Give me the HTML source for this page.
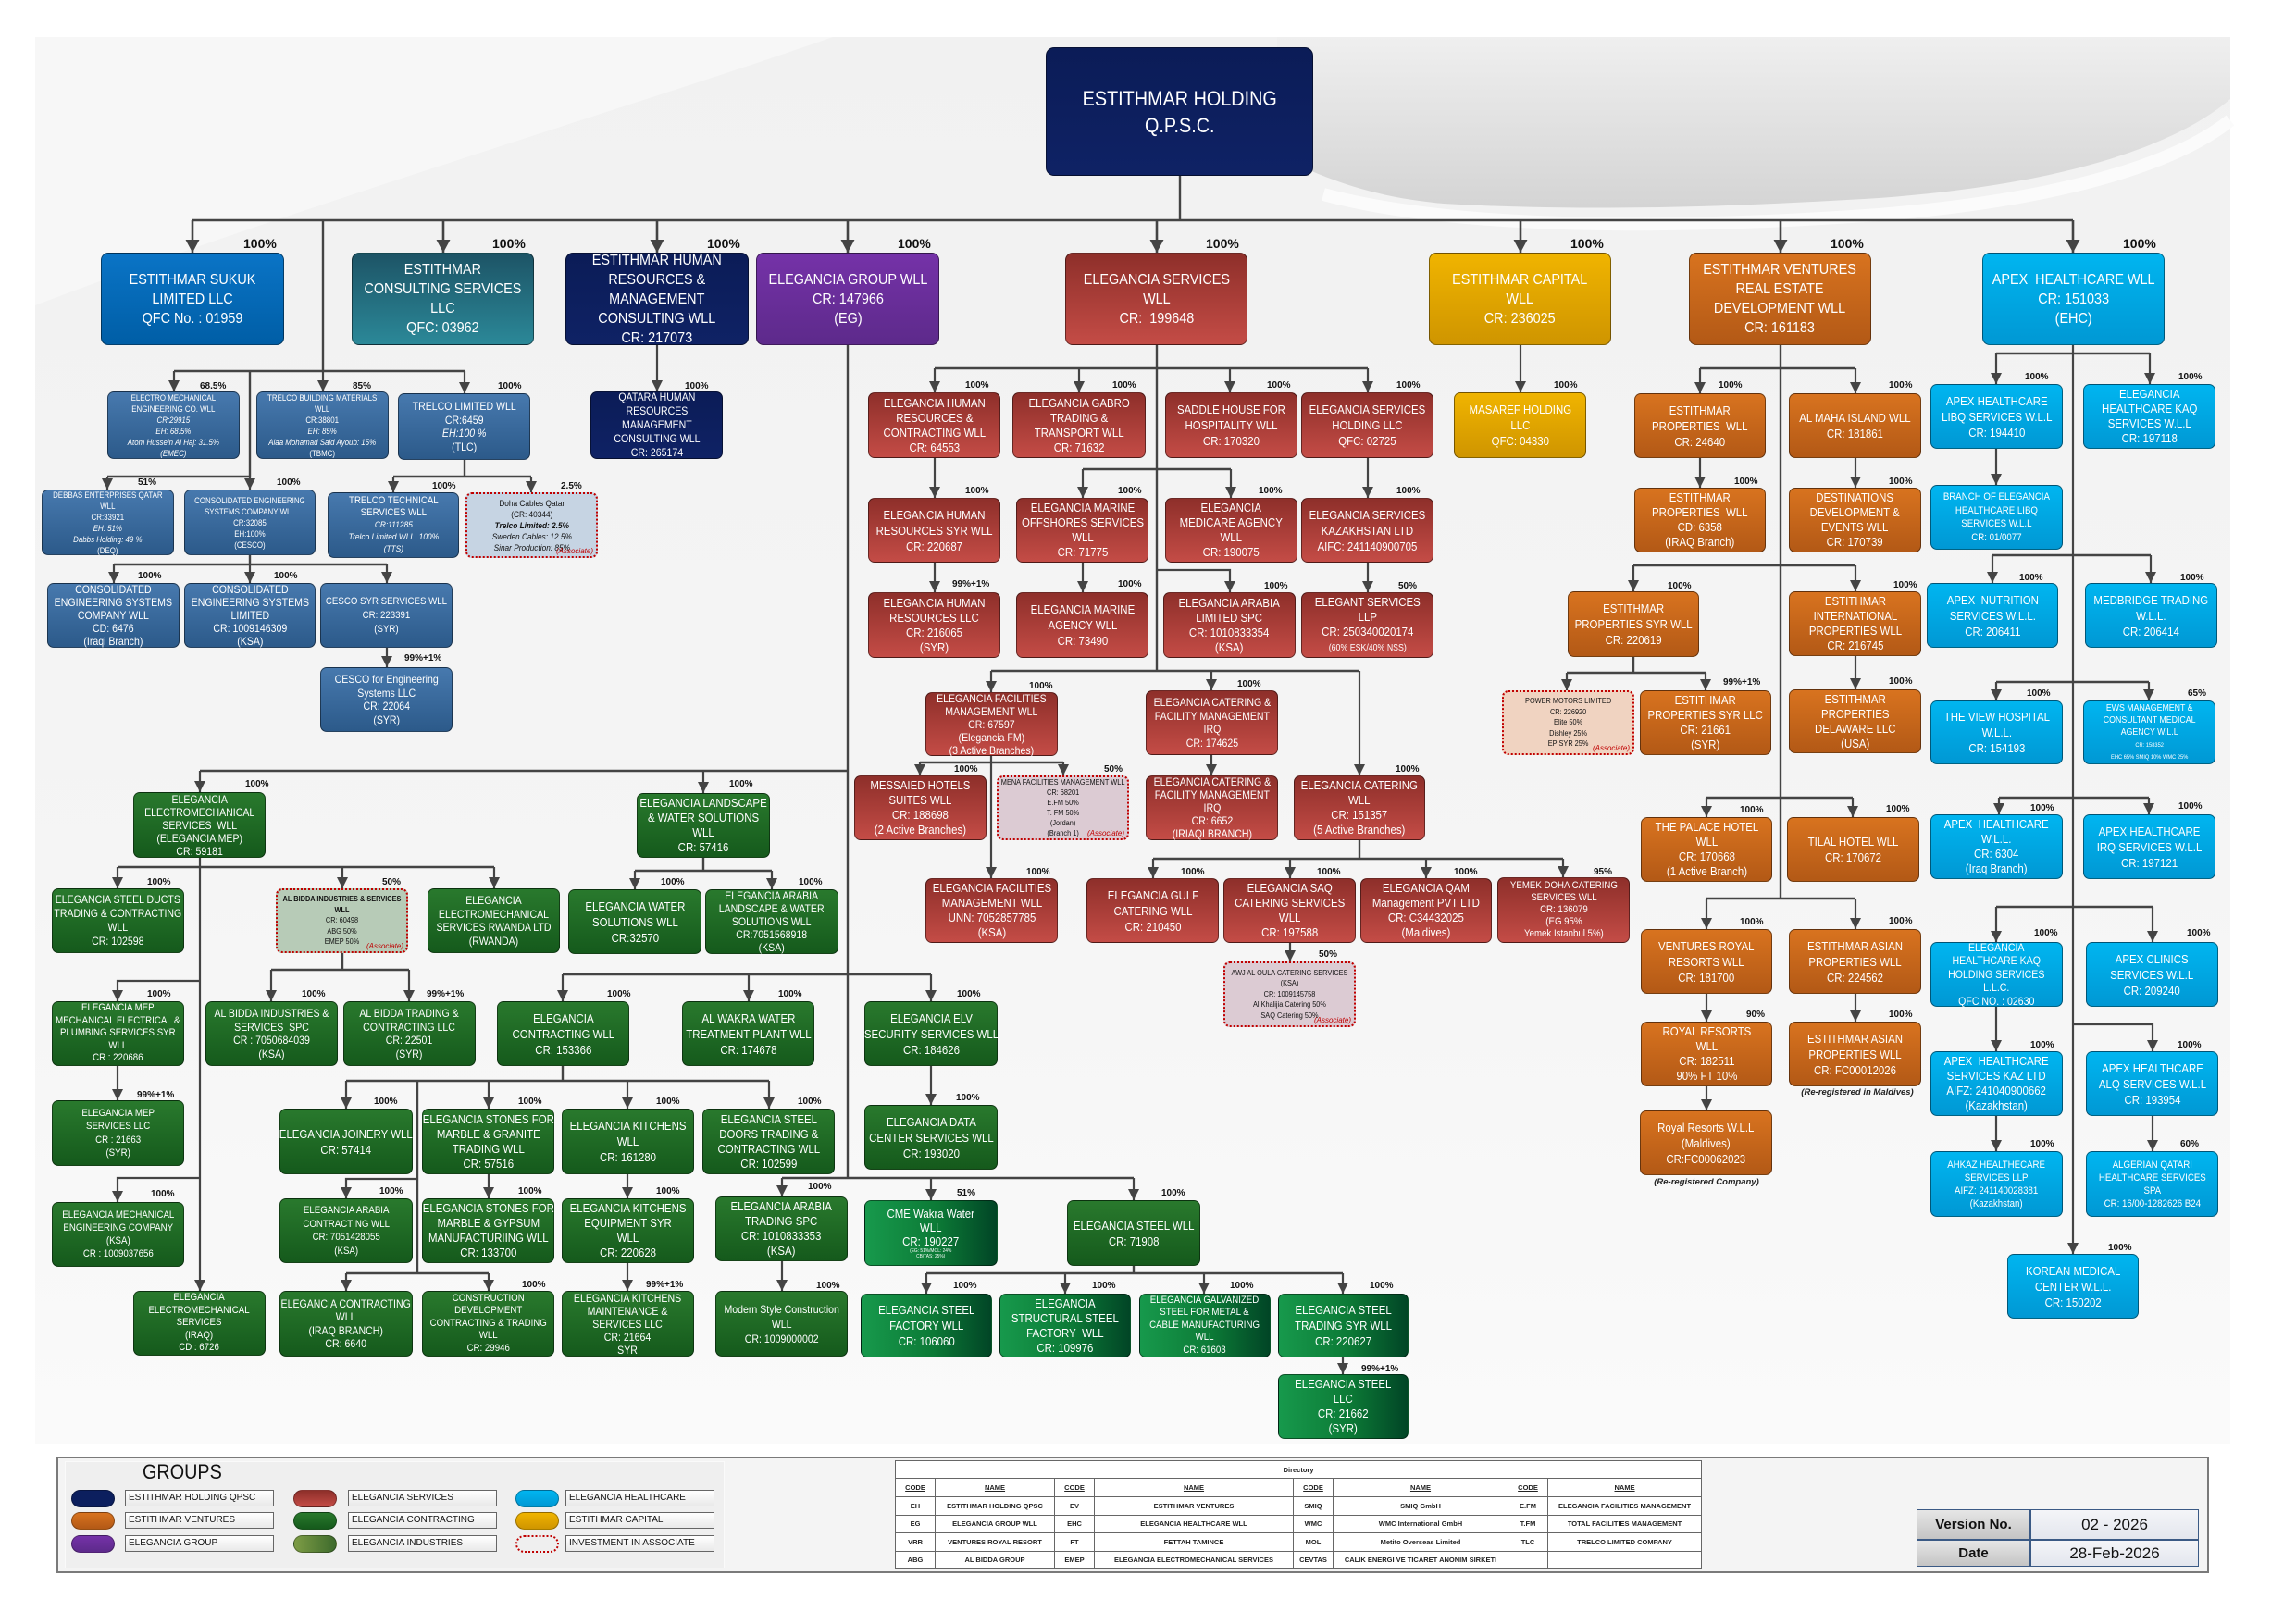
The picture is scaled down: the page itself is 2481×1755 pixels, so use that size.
<!DOCTYPE html>
<html><head><meta charset="utf-8">
<style>
body{margin:0;width:2481px;height:1755px;position:relative;background:#fff;font-family:"Liberation Sans",sans-serif;overflow:hidden}
svg.bg,svg.ln{position:absolute;left:0;top:0}
.b{position:absolute;box-sizing:border-box;border:1px solid rgba(0,0,0,.45);border-radius:7px;display:flex;align-items:center;justify-content:center;color:#fff;text-align:center;font-size:13px;line-height:16px}
.b>span{display:block;white-space:nowrap;transform:scaleX(.88)}
.L{font-size:16px;line-height:21px;border-radius:8px}
.L>span{transform:scaleX(.9)}
.s12{font-size:12px;line-height:14.5px}
.s11{font-size:11px;line-height:13.5px}
.s9{font-size:9px;line-height:12px}
.s8{font-size:8px;line-height:11.3px}
.nv{background:linear-gradient(#0b1c57,#0f2265)}
.bl{background:linear-gradient(#0a74c6,#005ea6)}
.tl{background:linear-gradient(#1d5466,#2b8898)}
.pu{background:linear-gradient(#7532a8,#5d2a8b)}
.rd{background:linear-gradient(#8e2f2a,#c44c46)}
.gd{background:linear-gradient(#f0b400,#cf9500)}
.or{background:linear-gradient(#d8731f,#b35916)}
.cy{background:linear-gradient(#00b5f0,#0098d4)}
.sb{background:linear-gradient(#4779ae,#2c5a8a)}
.gr{background:linear-gradient(#29792d,#155a1c)}
.gh{background:linear-gradient(90deg,#17994c,#0c7a36 55%,#014526)}
.as{border:2px dotted #c00000;color:#111}
.as>span{transform:scaleX(.92)}
.asl{position:absolute;right:3px;bottom:0;font-size:8px;line-height:10px;color:#c00000;font-style:italic}
.p{position:absolute;font-weight:bold;font-size:10px;line-height:12px;color:#111;white-space:nowrap}
.pm{position:absolute;font-weight:bold;font-size:14px;line-height:16px;color:#111;top:255px}
.cap{position:absolute;font-weight:bold;font-style:italic;font-size:9.5px;color:#222;white-space:nowrap;transform:translateX(-50%)}
.pill{position:absolute;width:47px;height:19px;border-radius:10px;box-sizing:border-box;border:1px solid rgba(0,0,0,.3)}
.lb{position:absolute;width:161px;height:18px;box-sizing:border-box;border:1px solid #666;background:linear-gradient(#fff,#e9e9e9);font-size:10px;line-height:16px;padding-left:3px;color:#111;white-space:nowrap}
table.dir{position:absolute;left:967px;top:1578px;width:871px;border-collapse:collapse;table-layout:fixed;font-size:7.5px;font-weight:bold;color:#222;background:#fff}
table.dir td{border:1px solid #666;text-align:center;padding:0;height:18.5px;white-space:nowrap;overflow:hidden}
table.dir tr.h td{text-decoration:underline}
</style></head><body>

<svg class="bg" width="2481" height="1755">
<defs>
<linearGradient id="pg" x1="0" y1="0" x2="0" y2="1"><stop offset="0" stop-color="#f1f1f1"/><stop offset=".6" stop-color="#f5f5f5"/><stop offset="1" stop-color="#fafafa"/></linearGradient>
<linearGradient id="sw" x1="0" y1="0" x2="0" y2="1"><stop offset="0" stop-color="#efefef"/><stop offset="1" stop-color="#d4d4d4"/></linearGradient>
</defs>
<rect x="38" y="40" width="2372" height="1520" fill="url(#pg)"/>
<path d="M38,40 L900,40 C700,110 300,230 38,330 Z" fill="#f7f7f7"/>
<path d="M1380,40 L2410,40 L2410,107 C2360,150 2250,198 2030,214 C1850,225 1700,228 1560,220 C1480,213 1430,192 1380,168 Z" fill="url(#sw)"/>
<path d="M1430,210 C1560,245 1780,250 2030,232 C2250,214 2360,170 2410,130" fill="none" stroke="#fbfbfb" stroke-width="14"/>
</svg>

<svg class="ln" width="2481" height="1755">
<defs>
<marker id="a" markerUnits="userSpaceOnUse" markerWidth="12" markerHeight="12" refX="12" refY="6" orient="auto"><path d="M0,0L12,6L0,12Z" fill="#444"/></marker>
<marker id="A" markerUnits="userSpaceOnUse" markerWidth="14" markerHeight="15" refX="14" refY="7.5" orient="auto"><path d="M0,0L14,7.5L0,15Z" fill="#444"/></marker>
</defs>
<path fill="none" stroke="#444" stroke-width="2.4" d="M1275,190V238 M208,238H2240 M349,238V401 M188,401H502 M270,401V515 M116,515H270 M502,497V515 M425,515H574 M270,600V610 M123,610H418 M916,373V1273 M216,833H916 M127,937H534 M760,927V941 M686,941H834 M370,1030V1048 M293,1048H442 M608,1053H1006 M608,1152V1168 M374,1168H831 M451,1168V1376 M374,1376H528 M845,1273H1225 M1225,1368V1376 M1001,1376H1451 M1250,373V725 M1010,398H1478 M1170,507H1330 M1071,725H1469 M994,824H1149 M1469,908V928 M1246,928H1689 M1924,373V971 M1837,398H2005 M1765,611H2005 M1765,710V727 M1693,727H1843 M1844,862H2002 M1844,971H2005 M2157,382H2323 M2153,600H2324 M2157,737H2322 M2160,862H2322 M2157,980H2326"/>
<g fill="none" stroke="#444" stroke-width="2.6" marker-end="url(#A)">
<path d="M208,238V273"/><path d="M479,238V273"/><path d="M710,238V273"/><path d="M916,238V273"/><path d="M1250,238V273"/><path d="M1643,238V273"/><path d="M1924,238V273"/><path d="M2240,238V273"/>
</g>
<g fill="none" stroke="#444" stroke-width="2.2" marker-end="url(#a)">
<path d="M188,401V423"/><path d="M349,401V423"/><path d="M502,401V425"/><path d="M116,515V529"/><path d="M270,515V529"/><path d="M425,515V532"/><path d="M574,515V532"/><path d="M710,373V423"/><path d="M123,610V630"/><path d="M270,610V630"/><path d="M418,610V630"/><path d="M418,700V721"/>
<path d="M216,833V856"/><path d="M760,833V857"/><path d="M216,927V1395"/><path d="M127,937V960"/><path d="M370,937V960"/><path d="M534,937V960"/><path d="M216,1060H127V1082"/><path d="M127,1152V1189"/><path d="M216,1273H127V1299"/><path d="M686,941V961"/><path d="M834,941V961"/><path d="M293,1048V1082"/><path d="M442,1048V1082"/><path d="M608,1053V1082"/><path d="M809,1053V1082"/><path d="M1006,1053V1082"/><path d="M1006,1152V1194"/><path d="M374,1168V1198"/><path d="M528,1168V1198"/><path d="M678,1168V1198"/><path d="M831,1168V1198"/><path d="M451,1274H374V1295"/><path d="M374,1376V1395"/><path d="M528,1376V1395"/><path d="M528,1269V1295"/><path d="M678,1269V1295"/><path d="M678,1365V1395"/><path d="M845,1273V1293"/><path d="M1006,1273V1297"/><path d="M1225,1273V1297"/><path d="M845,1363V1395"/><path d="M1001,1376V1398"/><path d="M1151,1376V1398"/><path d="M1301,1376V1398"/><path d="M1451,1376V1398"/><path d="M1451,1467V1485"/>
<path d="M1010,398V424"/><path d="M1166,398V424"/><path d="M1329,398V424"/><path d="M1478,398V424"/><path d="M1010,495V538"/><path d="M1478,495V538"/><path d="M1170,507V538"/><path d="M1330,507V538"/><path d="M1010,608V640"/><path d="M1170,608V640"/><path d="M1478,608V640"/><path d="M1250,616H1329V640"/><path d="M1071,725V748"/><path d="M1309,725V746"/><path d="M1469,725V838"/><path d="M1071,817V949"/><path d="M994,824V838"/><path d="M1149,824V838"/><path d="M1309,816V838"/><path d="M1246,928V949"/><path d="M1394,928V949"/><path d="M1541,928V949"/><path d="M1689,928V948"/><path d="M1394,1019V1039"/><path d="M1643,373V424"/>
<path d="M1837,398V425"/><path d="M2005,398V425"/><path d="M1837,495V527"/><path d="M2005,495V527"/><path d="M1765,611V639"/><path d="M2005,611V639"/><path d="M1693,727V746"/><path d="M1843,727V746"/><path d="M2005,709V745"/><path d="M1844,862V883"/><path d="M2002,862V883"/><path d="M1844,971V1004"/><path d="M2005,971V1004"/><path d="M1844,1074V1104"/><path d="M2005,1074V1104"/><path d="M1844,1174V1200"/>
<path d="M2240,373V1355"/><path d="M2157,382V415"/><path d="M2323,382V415"/><path d="M2157,485V524"/><path d="M2153,600V630"/><path d="M2324,600V630"/><path d="M2157,737V757"/><path d="M2322,737V757"/><path d="M2160,862V880"/><path d="M2322,862V880"/><path d="M2157,980V1018"/><path d="M2326,980V1018"/><path d="M2157,1088V1136"/><path d="M2240,1107H2326V1136"/><path d="M2157,1206V1244"/><path d="M2326,1206V1244"/>
</g>
</svg>

<!-- TOP -->
<div class="b nv" style="left:1130px;top:51px;width:289px;height:139px;font-size:22px;line-height:29px;border-radius:9px"><span style="transform:scaleX(.9)">ESTITHMAR HOLDING<br>Q.P.S.C.</span></div>

<!-- LEVEL 1 -->
<div class="b L bl" style="left:109px;top:273px;width:198px;height:100px"><span>ESTITHMAR SUKUK<br>LIMITED LLC<br>QFC No. : 01959</span></div>
<div class="b L tl" style="left:380px;top:273px;width:197px;height:100px"><span>ESTITHMAR<br>CONSULTING SERVICES<br>LLC<br>QFC: 03962</span></div>
<div class="b L nv" style="left:611px;top:273px;width:198px;height:100px"><span>ESTITHMAR HUMAN<br>RESOURCES &amp;<br>MANAGEMENT<br>CONSULTING WLL<br>CR: 217073</span></div>
<div class="b L pu" style="left:817px;top:273px;width:198px;height:100px"><span>ELEGANCIA GROUP WLL<br>CR: 147966<br>(EG)</span></div>
<div class="b L rd" style="left:1151px;top:273px;width:197px;height:100px"><span>ELEGANCIA SERVICES<br>WLL<br>CR:&nbsp; 199648</span></div>
<div class="b L gd" style="left:1544px;top:273px;width:197px;height:100px"><span>ESTITHMAR CAPITAL<br>WLL<br>CR: 236025</span></div>
<div class="b L or" style="left:1825px;top:273px;width:197px;height:100px"><span>ESTITHMAR VENTURES<br>REAL ESTATE<br>DEVELOPMENT WLL<br>CR: 161183</span></div>
<div class="b L cy" style="left:2142px;top:273px;width:197px;height:100px"><span>APEX&nbsp; HEALTHCARE WLL<br>CR: 151033<br>(EHC)</span></div>

<b class="pm" style="left:263px">100%</b><b class="pm" style="left:532px">100%</b><b class="pm" style="left:764px">100%</b><b class="pm" style="left:970px">100%</b><b class="pm" style="left:1303px">100%</b><b class="pm" style="left:1697px">100%</b><b class="pm" style="left:1978px">100%</b><b class="pm" style="left:2294px">100%</b>

<!-- ESTITHMAR HOLDING SUBS -->
<div class="b sb s9" style="left:116px;top:423px;width:143px;height:73px"><span>ELECTRO MECHANICAL<br>ENGINEERING CO. WLL<br><i>CR:29915</i><br><i>EH: 68.5%</i><br><i>Atom Hussein Al Haj: 31.5%</i><br><i>(EMEC)</i></span></div>
<div class="b sb s9" style="left:277px;top:423px;width:143px;height:73px"><span>TRELCO BUILDING MATERIALS<br>WLL<br>CR:38801<br><i>EH: 85%</i><br><i>Alaa Mohamad Said Ayoub: 15%</i><br>(TBMC)</span></div>
<div class="b sb s12" style="left:430px;top:425px;width:143px;height:72px"><span>TRELCO LIMITED WLL<br>CR:6459<br><i>EH:100 %</i><br>(TLC)</span></div>
<div class="b nv s12" style="left:638px;top:423px;width:143px;height:73px;line-height:15px"><span>QATARA HUMAN<br>RESOURCES<br>MANAGEMENT<br>CONSULTING WLL<br>CR: 265174</span></div>
<div class="b sb s9" style="left:45px;top:529px;width:143px;height:71px"><span>DEBBAS ENTERPRISES QATAR<br>WLL<br>CR:33921<br><i>EH: 51%</i><br><i>Dabbs Holding: 49 %</i><br>(DEQ)</span></div>
<div class="b sb s9" style="left:199px;top:529px;width:142px;height:71px"><span>CONSOLIDATED ENGINEERING<br>SYSTEMS COMPANY WLL<br>CR:32085<br>EH:100%<br>(CESCO)</span></div>
<div class="b sb s11" style="left:354px;top:532px;width:142px;height:71px;line-height:13px"><span>TRELCO TECHNICAL<br>SERVICES WLL<br><i style="font-size:9.5px">CR:111285</i><br><i style="font-size:9.5px">Trelco Limited WLL: 100%</i><br><i style="font-size:9.5px">(TTS)</i></span></div>
<div class="b as s9" style="left:503px;top:532px;width:143px;height:71px;background:#c6d4e3"><span>Doha Cables Qatar<br>(CR: 40344)<br><b><i>Trelco Limited: 2.5%</i></b><br><i>Sweden Cables: 12.5%</i><br><i>Sinar Production: 85%</i></span><em class="asl">(Associate)</em></div>
<div class="b sb s12" style="left:51px;top:630px;width:143px;height:70px;line-height:14px"><span>CONSOLIDATED<br>ENGINEERING SYSTEMS<br>COMPANY WLL<br>CD: 6476<br>(Iraqi Branch)</span></div>
<div class="b sb s12" style="left:199px;top:630px;width:142px;height:70px;line-height:14px"><span>CONSOLIDATED<br>ENGINEERING SYSTEMS<br>LIMITED<br>CR: 1009146309<br>(KSA)</span></div>
<div class="b sb s11" style="left:346px;top:630px;width:143px;height:70px;line-height:15px"><span>CESCO SYR SERVICES WLL<br>CR: 223391<br>(SYR)</span></div>
<div class="b sb s12" style="left:346px;top:721px;width:143px;height:70px"><span>CESCO for Engineering<br>Systems LLC<br>CR: 22064<br>(SYR)</span></div>

<b class="p" style="left:216px;top:412px">68.5%</b><b class="p" style="left:381px;top:412px">85%</b><b class="p" style="left:538px;top:412px">100%</b><b class="p" style="left:740px;top:412px">100%</b>
<b class="p" style="left:149px;top:516px">51%</b><b class="p" style="left:299px;top:516px">100%</b><b class="p" style="left:467px;top:520px">100%</b><b class="p" style="left:606px;top:520px">2.5%</b>
<b class="p" style="left:149px;top:617px">100%</b><b class="p" style="left:296px;top:617px">100%</b><b class="p" style="left:437px;top:706px">99%+1%</b>

<!-- ELEGANCIA SERVICES -->
<div class="b rd" style="left:938px;top:424px;width:143px;height:71px"><span>ELEGANCIA HUMAN<br>RESOURCES &amp;<br>CONTRACTING WLL<br>CR: 64553</span></div>
<div class="b rd" style="left:1094px;top:424px;width:144px;height:71px"><span>ELEGANCIA GABRO<br>TRADING &amp;<br>TRANSPORT WLL<br>CR: 71632</span></div>
<div class="b rd" style="left:1259px;top:424px;width:143px;height:71px;line-height:17px"><span>SADDLE HOUSE FOR<br>HOSPITALITY WLL<br>CR: 170320</span></div>
<div class="b rd" style="left:1406px;top:424px;width:143px;height:71px;line-height:17px"><span>ELEGANCIA SERVICES<br>HOLDING LLC<br>QFC: 02725</span></div>
<div class="b gd" style="left:1571px;top:424px;width:143px;height:71px;line-height:17px"><span>MASAREF HOLDING<br>LLC<br>QFC: 04330</span></div>
<div class="b rd" style="left:938px;top:538px;width:143px;height:70px;line-height:17px"><span>ELEGANCIA HUMAN<br>RESOURCES SYR WLL<br>CR: 220687</span></div>
<div class="b rd" style="left:1098px;top:538px;width:143px;height:70px"><span>ELEGANCIA MARINE<br>OFFSHORES SERVICES<br>WLL<br>CR: 71775</span></div>
<div class="b rd" style="left:1259px;top:538px;width:143px;height:70px"><span>ELEGANCIA<br>MEDICARE AGENCY<br>WLL<br>CR: 190075</span></div>
<div class="b rd" style="left:1406px;top:538px;width:143px;height:70px;line-height:17px"><span>ELEGANCIA SERVICES<br>KAZAKHSTAN LTD<br>AIFC: 241140900705</span></div>
<div class="b rd" style="left:938px;top:640px;width:143px;height:71px"><span>ELEGANCIA HUMAN<br>RESOURCES LLC<br>CR: 216065<br>(SYR)</span></div>
<div class="b rd" style="left:1098px;top:640px;width:143px;height:71px;line-height:17px"><span>ELEGANCIA MARINE<br>AGENCY WLL<br>CR: 73490</span></div>
<div class="b rd" style="left:1257px;top:640px;width:143px;height:71px"><span>ELEGANCIA ARABIA<br>LIMITED SPC<br>CR: 1010833354<br>(KSA)</span></div>
<div class="b rd" style="left:1406px;top:640px;width:143px;height:71px"><span>ELEGANT SERVICES<br>LLP<br>CR: 250340020174<br><span style="font-size:10px">(60% ESK/40% NSS)</span></span></div>
<div class="b rd s12" style="left:1000px;top:748px;width:143px;height:69px;line-height:14px"><span>ELEGANCIA FACILITIES<br>MANAGEMENT WLL<br>CR: 67597<br>(Elegancia FM)<br>(3 Active Branches)</span></div>
<div class="b rd s12" style="left:1238px;top:746px;width:143px;height:70px;line-height:14.5px"><span>ELEGANCIA CATERING &amp;<br>FACILITY MANAGEMENT<br>IRQ<br>CR: 174625</span></div>
<div class="b rd" style="left:923px;top:838px;width:143px;height:70px"><span>MESSAIED HOTELS<br>SUITES WLL<br>CR: 188698<br>(2 Active Branches)</span></div>
<div class="b as s8" style="left:1077px;top:838px;width:143px;height:70px;background:#dccbd3;line-height:11px"><span>MENA FACILITIES MANAGEMENT WLL<br>CR: 68201<br>E.FM 50%<br>T. FM 50%<br>(Jordan)<br>(Branch 1)</span><em class="asl">(Associate)</em></div>
<div class="b rd s12" style="left:1238px;top:838px;width:143px;height:70px;line-height:14px"><span>ELEGANCIA CATERING &amp;<br>FACILITY MANAGEMENT<br>IRQ<br>CR: 6652<br>(IRIAQI BRANCH)</span></div>
<div class="b rd" style="left:1398px;top:838px;width:142px;height:70px"><span>ELEGANCIA CATERING<br>WLL<br>CR: 151357<br>(5 Active Branches)</span></div>
<div class="b rd" style="left:1000px;top:949px;width:143px;height:70px"><span>ELEGANCIA FACILITIES<br>MANAGEMENT WLL<br>UNN: 7052857785<br>(KSA)</span></div>
<div class="b rd" style="left:1174px;top:949px;width:143px;height:70px;line-height:17px"><span>ELEGANCIA GULF<br>CATERING WLL<br>CR: 210450</span></div>
<div class="b rd" style="left:1322px;top:949px;width:143px;height:70px"><span>ELEGANCIA SAQ<br>CATERING SERVICES<br>WLL<br>CR: 197588</span></div>
<div class="b rd" style="left:1470px;top:949px;width:142px;height:70px"><span>ELEGANCIA QAM<br>Management PVT LTD<br>CR: C34432025<br>(Maldives)</span></div>
<div class="b rd s11" style="left:1618px;top:948px;width:143px;height:71px;line-height:13px"><span>YEMEK DOHA CATERING<br>SERVICES WLL<br>CR: 136079<br>(EG 95%<br>Yemek Istanbul 5%)</span></div>
<div class="b as s8" style="left:1322px;top:1039px;width:143px;height:71px;background:#dccbd3;line-height:11.5px"><span>AWJ AL OULA CATERING SERVICES<br>(KSA)<br>CR: 1009145758<br>Al Khalijia Catering 50%<br>SAQ Catering 50%</span><em class="asl">(Associate)</em></div>

<b class="p" style="left:1043px;top:411px">100%</b><b class="p" style="left:1202px;top:411px">100%</b><b class="p" style="left:1369px;top:411px">100%</b><b class="p" style="left:1509px;top:411px">100%</b><b class="p" style="left:1679px;top:411px">100%</b>
<b class="p" style="left:1043px;top:525px">100%</b><b class="p" style="left:1208px;top:525px">100%</b><b class="p" style="left:1360px;top:525px">100%</b><b class="p" style="left:1509px;top:525px">100%</b>
<b class="p" style="left:1029px;top:626px">99%+1%</b><b class="p" style="left:1208px;top:626px">100%</b><b class="p" style="left:1366px;top:628px">100%</b><b class="p" style="left:1511px;top:628px">50%</b>
<b class="p" style="left:1112px;top:736px">100%</b><b class="p" style="left:1337px;top:734px">100%</b>
<b class="p" style="left:1031px;top:826px">100%</b><b class="p" style="left:1193px;top:826px">50%</b><b class="p" style="left:1508px;top:826px">100%</b>
<b class="p" style="left:1109px;top:937px">100%</b><b class="p" style="left:1276px;top:937px">100%</b><b class="p" style="left:1423px;top:937px">100%</b><b class="p" style="left:1571px;top:937px">100%</b><b class="p" style="left:1722px;top:937px">95%</b>
<b class="p" style="left:1425px;top:1026px">50%</b>

<!-- VENTURES -->
<div class="b or" style="left:1766px;top:425px;width:142px;height:70px;line-height:17px"><span>ESTITHMAR<br>PROPERTIES&nbsp; WLL<br>CR: 24640</span></div>
<div class="b or" style="left:1933px;top:425px;width:143px;height:70px;line-height:17px"><span>AL MAHA ISLAND WLL<br>CR: 181861</span></div>
<div class="b or" style="left:1766px;top:527px;width:142px;height:70px"><span>ESTITHMAR<br>PROPERTIES&nbsp; WLL<br>CD: 6358<br>(IRAQ Branch)</span></div>
<div class="b or" style="left:1933px;top:527px;width:143px;height:70px"><span>DESTINATIONS<br>DEVELOPMENT &amp;<br>EVENTS WLL<br>CR: 170739</span></div>
<div class="b or" style="left:1694px;top:639px;width:142px;height:71px;line-height:17px"><span>ESTITHMAR<br>PROPERTIES SYR WLL<br>CR: 220619</span></div>
<div class="b or" style="left:1933px;top:639px;width:143px;height:70px"><span>ESTITHMAR<br>INTERNATIONAL<br>PROPERTIES WLL<br>CR: 216745</span></div>
<div class="b as s8" style="left:1623px;top:746px;width:143px;height:70px;background:#f0d3c1;line-height:11.5px"><span>POWER MOTORS LIMITED<br>CR: 226920<br>Elite 50%<br>Dishley 25%<br>EP SYR 25%</span><em class="asl">(Associate)</em></div>
<div class="b or" style="left:1772px;top:746px;width:142px;height:70px"><span>ESTITHMAR<br>PROPERTIES SYR LLC<br>CR: 21661<br>(SYR)</span></div>
<div class="b or" style="left:1933px;top:745px;width:143px;height:69px"><span>ESTITHMAR<br>PROPERTIES<br>DELAWARE LLC<br>(USA)</span></div>
<div class="b or" style="left:1773px;top:883px;width:142px;height:70px"><span>THE PALACE HOTEL<br>WLL<br>CR: 170668<br>(1 Active Branch)</span></div>
<div class="b or" style="left:1931px;top:883px;width:143px;height:70px;line-height:17px"><span>TILAL HOTEL WLL<br>CR: 170672</span></div>
<div class="b or" style="left:1773px;top:1004px;width:142px;height:70px;line-height:17px"><span>VENTURES ROYAL<br>RESORTS WLL<br>CR: 181700</span></div>
<div class="b or" style="left:1933px;top:1004px;width:143px;height:70px;line-height:17px"><span>ESTITHMAR ASIAN<br>PROPERTIES WLL<br>CR: 224562</span></div>
<div class="b or" style="left:1773px;top:1104px;width:142px;height:70px"><span>ROYAL RESORTS<br>WLL<br>CR: 182511<br>90% FT 10%</span></div>
<div class="b or" style="left:1933px;top:1104px;width:143px;height:70px;line-height:17px"><span>ESTITHMAR ASIAN<br>PROPERTIES WLL<br>CR: FC00012026</span></div>
<div class="cap" style="left:2007px;top:1175px">(Re-registered in Maldives)</div>
<div class="b or" style="left:1772px;top:1200px;width:143px;height:70px;line-height:17px"><span>Royal Resorts W.L.L<br>(Maldives)<br>CR:FC00062023</span></div>
<div class="cap" style="left:1844px;top:1272px">(Re-registered Company)</div>

<b class="p" style="left:1857px;top:411px">100%</b><b class="p" style="left:2041px;top:411px">100%</b>
<b class="p" style="left:1874px;top:515px">100%</b><b class="p" style="left:2041px;top:515px">100%</b>
<b class="p" style="left:1802px;top:628px">100%</b><b class="p" style="left:2046px;top:627px">100%</b>
<b class="p" style="left:1862px;top:732px">99%+1%</b><b class="p" style="left:2041px;top:731px">100%</b>
<b class="p" style="left:1880px;top:870px">100%</b><b class="p" style="left:2038px;top:869px">100%</b>
<b class="p" style="left:1880px;top:991px">100%</b><b class="p" style="left:2041px;top:990px">100%</b>
<b class="p" style="left:1887px;top:1091px">90%</b><b class="p" style="left:2041px;top:1091px">100%</b>

<!-- APEX -->
<div class="b cy" style="left:2086px;top:415px;width:143px;height:70px;line-height:17px"><span>APEX HEALTHCARE<br>LIBQ SERVICES W.L.L<br>CR: 194410</span></div>
<div class="b cy" style="left:2251px;top:415px;width:143px;height:70px"><span>ELEGANCIA<br>HEALTHCARE KAQ<br>SERVICES W.L.L<br>CR: 197118</span></div>
<div class="b cy s11" style="left:2086px;top:524px;width:143px;height:70px;line-height:14.5px"><span>BRANCH OF ELEGANCIA<br>HEALTHCARE LIBQ<br>SERVICES W.L.L<br>CR: 01/0077</span></div>
<div class="b cy" style="left:2082px;top:630px;width:142px;height:70px;line-height:17px"><span>APEX&nbsp; NUTRITION<br>SERVICES W.L.L.<br>CR: 206411</span></div>
<div class="b cy" style="left:2253px;top:630px;width:143px;height:70px;line-height:17px"><span>MEDBRIDGE TRADING<br>W.L.L.<br>CR: 206414</span></div>
<div class="b cy" style="left:2086px;top:757px;width:143px;height:69px;line-height:17px"><span>THE VIEW HOSPITAL<br>W.L.L.<br>CR: 154193</span></div>
<div class="b cy" style="left:2251px;top:757px;width:143px;height:69px;font-size:10px;line-height:13px"><span>EWS MANAGEMENT &amp;<br>CONSULTANT MEDICAL<br>AGENCY W.L.L<br><span style="font-size:6.5px;line-height:10px">CR: 158352</span><br><span style="font-size:6.5px;line-height:10px">EHC 65% SMIQ 10% WMC 25%</span></span></div>
<div class="b cy" style="left:2086px;top:880px;width:143px;height:70px"><span>APEX&nbsp; HEALTHCARE<br>W.L.L.<br>CR: 6304<br>(Iraq Branch)</span></div>
<div class="b cy" style="left:2251px;top:880px;width:143px;height:70px;line-height:17px"><span>APEX HEALTHCARE<br>IRQ SERVICES W.L.L<br>CR: 197121</span></div>
<div class="b cy s12" style="left:2086px;top:1018px;width:143px;height:70px;line-height:14.5px"><span>ELEGANCIA<br>HEALTHCARE KAQ<br>HOLDING SERVICES<br>L.L.C.<br>QFC NO. : 02630</span></div>
<div class="b cy" style="left:2254px;top:1018px;width:143px;height:70px;line-height:17px"><span>APEX CLINICS<br>SERVICES W.L.L<br>CR: 209240</span></div>
<div class="b cy" style="left:2086px;top:1136px;width:143px;height:70px"><span>APEX&nbsp; HEALTHCARE<br>SERVICES KAZ LTD<br>AIFZ: 241040900662<br>(Kazakhstan)</span></div>
<div class="b cy" style="left:2254px;top:1136px;width:143px;height:70px;line-height:17px"><span>APEX HEALTHCARE<br>ALQ SERVICES W.L.L<br>CR: 193954</span></div>
<div class="b cy s11" style="left:2086px;top:1244px;width:143px;height:71px;line-height:14px"><span>AHKAZ HEALTHECARE<br>SERVICES LLP<br>AIFZ: 241140028381<br>(Kazakhstan)</span></div>
<div class="b cy s11" style="left:2254px;top:1244px;width:143px;height:71px;line-height:14px"><span>ALGERIAN QATARI<br>HEALTHCARE SERVICES<br>SPA<br>CR: 16/00-1282626 B24</span></div>
<div class="b cy" style="left:2169px;top:1355px;width:142px;height:70px;line-height:17px"><span>KOREAN MEDICAL<br>CENTER W.L.L.<br>CR: 150202</span></div>

<b class="p" style="left:2188px;top:402px">100%</b><b class="p" style="left:2354px;top:402px">100%</b>
<b class="p" style="left:2182px;top:619px">100%</b><b class="p" style="left:2356px;top:619px">100%</b>
<b class="p" style="left:2190px;top:744px">100%</b><b class="p" style="left:2364px;top:744px">65%</b>
<b class="p" style="left:2194px;top:868px">100%</b><b class="p" style="left:2354px;top:866px">100%</b>
<b class="p" style="left:2198px;top:1003px">100%</b><b class="p" style="left:2363px;top:1003px">100%</b>
<b class="p" style="left:2194px;top:1124px">100%</b><b class="p" style="left:2353px;top:1124px">100%</b>
<b class="p" style="left:2194px;top:1231px">100%</b><b class="p" style="left:2356px;top:1231px">60%</b>
<b class="p" style="left:2278px;top:1343px">100%</b>

<!-- ELEGANCIA GROUP -->
<div class="b gr s12" style="left:144px;top:856px;width:143px;height:71px;line-height:14px"><span>ELEGANCIA<br>ELECTROMECHANICAL<br>SERVICES&nbsp; WLL<br>(ELEGANCIA MEP)<br>CR: 59181</span></div>
<div class="b gr" style="left:688px;top:857px;width:144px;height:70px"><span>ELEGANCIA LANDSCAPE<br>&amp; WATER SOLUTIONS<br>WLL<br>CR: 57416</span></div>
<div class="b gr s12" style="left:56px;top:960px;width:143px;height:70px;line-height:15px"><span>ELEGANCIA STEEL DUCTS<br>TRADING &amp; CONTRACTING<br>WLL<br>CR: 102598</span></div>
<div class="b as s8" style="left:298px;top:960px;width:143px;height:70px;background:#b7cbb7;line-height:11.5px"><span><b>AL BIDDA INDUSTRIES &amp; SERVICES</b><br><b>WLL</b><br>CR: 60498<br>ABG 50%<br>EMEP 50%</span><em class="asl">(Associate)</em></div>
<div class="b gr s12" style="left:462px;top:960px;width:143px;height:70px;line-height:14.5px"><span>ELEGANCIA<br>ELECTROMECHANICAL<br>SERVICES RWANDA LTD<br>(RWANDA)</span></div>
<div class="b gr" style="left:614px;top:961px;width:144px;height:70px;line-height:17px"><span>ELEGANCIA WATER<br>SOLUTIONS WLL<br>CR:32570</span></div>
<div class="b gr s12" style="left:762px;top:961px;width:144px;height:70px;line-height:14px"><span>ELEGANCIA ARABIA<br>LANDSCAPE &amp; WATER<br>SOLUTIONS WLL<br>CR:7051568918<br>(KSA)</span></div>
<div class="b gr s11" style="left:56px;top:1082px;width:143px;height:70px;line-height:13.5px"><span>ELEGANCIA MEP<br>MECHANICAL ELECTRICAL &amp;<br>PLUMBING SERVICES SYR<br>WLL<br>CR : 220686</span></div>
<div class="b gr s12" style="left:222px;top:1082px;width:143px;height:70px;line-height:14.5px"><span>AL BIDDA INDUSTRIES &amp;<br>SERVICES&nbsp; SPC<br>CR : 7050684039<br>(KSA)</span></div>
<div class="b gr s12" style="left:371px;top:1082px;width:143px;height:70px;line-height:14.5px"><span>AL BIDDA TRADING &amp;<br>CONTRACTING LLC<br>CR: 22501<br>(SYR)</span></div>
<div class="b gr" style="left:537px;top:1082px;width:143px;height:70px;line-height:17px"><span>ELEGANCIA<br>CONTRACTING WLL<br>CR: 153366</span></div>
<div class="b gr" style="left:737px;top:1082px;width:143px;height:70px;line-height:17px"><span>AL WAKRA WATER<br>TREATMENT PLANT WLL<br>CR: 174678</span></div>
<div class="b gr" style="left:934px;top:1082px;width:144px;height:70px;line-height:17px"><span>ELEGANCIA ELV<br>SECURITY SERVICES WLL<br>CR: 184626</span></div>
<div class="b gr s11" style="left:56px;top:1189px;width:143px;height:71px;line-height:14.5px"><span>ELEGANCIA MEP<br>SERVICES LLC<br>CR : 21663<br>(SYR)</span></div>
<div class="b gr" style="left:934px;top:1194px;width:144px;height:70px;line-height:17px"><span>ELEGANCIA DATA<br>CENTER SERVICES WLL<br>CR: 193020</span></div>
<div class="b gr" style="left:302px;top:1198px;width:144px;height:71px;line-height:17px"><span>ELEGANCIA JOINERY WLL<br>CR: 57414</span></div>
<div class="b gr" style="left:456px;top:1198px;width:143px;height:71px"><span>ELEGANCIA STONES FOR<br>MARBLE &amp; GRANITE<br>TRADING WLL<br>CR: 57516</span></div>
<div class="b gr" style="left:607px;top:1198px;width:143px;height:71px;line-height:17px"><span>ELEGANCIA KITCHENS<br>WLL<br>CR: 161280</span></div>
<div class="b gr" style="left:759px;top:1198px;width:143px;height:71px"><span>ELEGANCIA STEEL<br>DOORS TRADING &amp;<br>CONTRACTING WLL<br>CR: 102599</span></div>
<div class="b gr s11" style="left:56px;top:1299px;width:143px;height:70px;line-height:14px"><span>ELEGANCIA MECHANICAL<br>ENGINEERING COMPANY<br>(KSA)<br>CR : 1009037656</span></div>
<div class="b gr s11" style="left:302px;top:1295px;width:144px;height:70px;line-height:14.5px"><span>ELEGANCIA ARABIA<br>CONTRACTING WLL<br>CR: 7051428055<br>(KSA)</span></div>
<div class="b gr" style="left:456px;top:1295px;width:143px;height:70px"><span>ELEGANCIA STONES FOR<br>MARBLE &amp; GYPSUM<br>MANUFACTURIING WLL<br>CR: 133700</span></div>
<div class="b gr" style="left:607px;top:1295px;width:143px;height:70px"><span>ELEGANCIA KITCHENS<br>EQUIPMENT SYR<br>WLL<br>CR: 220628</span></div>
<div class="b gr" style="left:773px;top:1293px;width:143px;height:70px"><span>ELEGANCIA ARABIA<br>TRADING SPC<br>CR: 1010833353<br>(KSA)</span></div>
<div class="b gh" style="left:934px;top:1297px;width:144px;height:71px;line-height:15px"><span>CME Wakra Water<br>WLL<br>CR: 190227<br><span style="font-size:5.5px;line-height:6.5px;display:block">(EG: 51%/MOL: 24%<br>CB/TAS: 25%)</span></span></div>
<div class="b gr" style="left:1153px;top:1297px;width:144px;height:71px;line-height:17px"><span>ELEGANCIA STEEL WLL<br>CR: 71908</span></div>
<div class="b gr s11" style="left:144px;top:1395px;width:143px;height:70px;line-height:13.5px"><span>ELEGANCIA<br>ELECTROMECHANICAL<br>SERVICES<br>(IRAQ)<br>CD : 6726</span></div>
<div class="b gr s12" style="left:302px;top:1395px;width:144px;height:71px;line-height:14.5px"><span>ELEGANCIA CONTRACTING<br>WLL<br>(IRAQ BRANCH)<br>CR: 6640</span></div>
<div class="b gr s11" style="left:456px;top:1395px;width:143px;height:71px;line-height:13.5px"><span>CONSTRUCTION<br>DEVELOPMENT<br>CONTRACTING &amp; TRADING<br>WLL<br>CR: 29946</span></div>
<div class="b gr s12" style="left:607px;top:1395px;width:143px;height:71px;line-height:14px"><span>ELEGANCIA KITCHENS<br>MAINTENANCE &amp;<br>SERVICES LLC<br>CR: 21664<br>SYR</span></div>
<div class="b gr s12" style="left:773px;top:1395px;width:143px;height:71px;line-height:16px"><span>Modern Style Construction<br>WLL<br>CR: 1009000002</span></div>
<div class="b gh" style="left:930px;top:1398px;width:142px;height:69px;line-height:17px"><span>ELEGANCIA STEEL<br>FACTORY WLL<br>CR: 106060</span></div>
<div class="b gh" style="left:1080px;top:1398px;width:142px;height:69px"><span>ELEGANCIA<br>STRUCTURAL STEEL<br>FACTORY&nbsp; WLL<br>CR: 109976</span></div>
<div class="b gh s11" style="left:1231px;top:1398px;width:142px;height:69px;line-height:13.5px"><span>ELEGANCIA GALVANIZED<br>STEEL FOR METAL &amp;<br>CABLE MANUFACTURING<br>WLL<br>CR: 61603</span></div>
<div class="b gh" style="left:1381px;top:1398px;width:141px;height:69px;line-height:17px"><span>ELEGANCIA STEEL<br>TRADING SYR WLL<br>CR: 220627</span></div>
<div class="b gh" style="left:1381px;top:1485px;width:141px;height:70px"><span>ELEGANCIA STEEL<br>LLC<br>CR: 21662<br>(SYR)</span></div>

<b class="p" style="left:265px;top:842px">100%</b><b class="p" style="left:788px;top:842px">100%</b>
<b class="p" style="left:159px;top:948px">100%</b><b class="p" style="left:413px;top:948px">50%</b><b class="p" style="left:714px;top:948px">100%</b><b class="p" style="left:863px;top:948px">100%</b>
<b class="p" style="left:159px;top:1069px">100%</b><b class="p" style="left:326px;top:1069px">100%</b><b class="p" style="left:461px;top:1069px">99%+1%</b><b class="p" style="left:656px;top:1069px">100%</b><b class="p" style="left:841px;top:1069px">100%</b><b class="p" style="left:1034px;top:1069px">100%</b>
<b class="p" style="left:148px;top:1178px">99%+1%</b><b class="p" style="left:1033px;top:1181px">100%</b>
<b class="p" style="left:404px;top:1185px">100%</b><b class="p" style="left:560px;top:1185px">100%</b><b class="p" style="left:709px;top:1185px">100%</b><b class="p" style="left:862px;top:1185px">100%</b>
<b class="p" style="left:163px;top:1285px">100%</b><b class="p" style="left:410px;top:1282px">100%</b><b class="p" style="left:560px;top:1282px">100%</b><b class="p" style="left:709px;top:1282px">100%</b><b class="p" style="left:873px;top:1277px">100%</b>
<b class="p" style="left:1034px;top:1284px">51%</b><b class="p" style="left:1255px;top:1284px">100%</b>
<b class="p" style="left:564px;top:1383px">100%</b><b class="p" style="left:698px;top:1383px">99%+1%</b><b class="p" style="left:882px;top:1384px">100%</b>
<b class="p" style="left:1030px;top:1384px">100%</b><b class="p" style="left:1180px;top:1384px">100%</b><b class="p" style="left:1329px;top:1384px">100%</b><b class="p" style="left:1480px;top:1384px">100%</b>
<b class="p" style="left:1471px;top:1474px">99%+1%</b>

<!-- LEGEND -->
<div style="position:absolute;left:61px;top:1574px;width:2326px;height:126px;border:2px solid #7a7a7a;box-sizing:border-box;background:#f4f4f4"></div>
<div style="position:absolute;left:70px;top:1579px;width:713px;height:116px;border:1px solid #fafafa;background:#efefef;box-sizing:border-box"></div>
<div style="position:absolute;left:154px;top:1578px;font-size:22px;line-height:26px;color:#111;transform:scaleX(.9);transform-origin:left">GROUPS</div>

<div class="pill" style="left:77px;top:1610px;background:#0c1f5e"></div><div class="lb" style="left:135px;top:1610px">ESTITHMAR HOLDING QPSC</div>
<div class="pill" style="left:77px;top:1634px;background:linear-gradient(#d8731f,#b35916)"></div><div class="lb" style="left:135px;top:1634px">ESTITHMAR VENTURES</div>
<div class="pill" style="left:77px;top:1659px;background:linear-gradient(#7532a8,#5d2a8b)"></div><div class="lb" style="left:135px;top:1659px">ELEGANCIA GROUP</div>
<div class="pill" style="left:317px;top:1610px;background:linear-gradient(#8e2f2a,#c44c46)"></div><div class="lb" style="left:376px;top:1610px">ELEGANCIA SERVICES</div>
<div class="pill" style="left:317px;top:1634px;background:linear-gradient(#29792d,#155a1c)"></div><div class="lb" style="left:376px;top:1634px">ELEGANCIA CONTRACTING</div>
<div class="pill" style="left:317px;top:1659px;background:linear-gradient(90deg,#7d9c45,#3d6a2c)"></div><div class="lb" style="left:376px;top:1659px">ELEGANCIA INDUSTRIES</div>
<div class="pill" style="left:557px;top:1610px;background:linear-gradient(#00b5f0,#0098d4)"></div><div class="lb" style="left:611px;top:1610px">ELEGANCIA HEALTHCARE</div>
<div class="pill" style="left:557px;top:1634px;background:linear-gradient(#f0b400,#cf9500)"></div><div class="lb" style="left:611px;top:1634px">ESTITHMAR CAPITAL</div>
<div class="pill" style="left:557px;top:1659px;border:2px dotted #c00000;background:transparent"></div><div class="lb" style="left:611px;top:1659px">INVESTMENT IN ASSOCIATE</div>

<table class="dir">
<colgroup><col style="width:43px"><col style="width:129px"><col style="width:43px"><col style="width:215px"><col style="width:43px"><col style="width:189px"><col style="width:43px"><col style="width:166px"></colgroup>
<tr><td colspan="8" style="height:18px">Directory</td></tr>
<tr class="h"><td style="height:19px">CODE</td><td>NAME</td><td>CODE</td><td>NAME</td><td>CODE</td><td>NAME</td><td>CODE</td><td>NAME</td></tr>
<tr><td>EH</td><td>ESTITHMAR HOLDING QPSC</td><td>EV</td><td>ESTITHMAR VENTURES</td><td>SMIQ</td><td>SMIQ GmbH</td><td>E.FM</td><td>ELEGANCIA FACILITIES MANAGEMENT</td></tr>
<tr><td>EG</td><td>ELEGANCIA GROUP WLL</td><td>EHC</td><td>ELEGANCIA HEALTHCARE WLL</td><td>WMC</td><td>WMC International GmbH</td><td>T.FM</td><td>TOTAL FACILITIES MANAGEMENT</td></tr>
<tr><td>VRR</td><td>VENTURES ROYAL RESORT</td><td>FT</td><td>FETTAH TAMINCE</td><td>MOL</td><td>Metito Overseas Limited</td><td>TLC</td><td>TRELCO LIMITED COMPANY</td></tr>
<tr><td>ABG</td><td>AL BIDDA GROUP</td><td>EMEP</td><td>ELEGANCIA ELECTROMECHANICAL SERVICES</td><td>CEVTAS</td><td>CALIK ENERGI VE TICARET ANONIM SIRKETI</td><td></td><td></td></tr>
</table>

<div style="position:absolute;left:2071px;top:1631px;width:123px;height:33px;box-sizing:border-box;border:1px solid #3b5a85;background:linear-gradient(#e6e6e6,#c4c4c4);font-weight:bold;font-size:15px;line-height:31px;text-align:center;color:#111">Version No.</div>
<div style="position:absolute;left:2194px;top:1631px;width:182px;height:33px;box-sizing:border-box;border:1px solid #3b5a85;background:linear-gradient(#f4f5f8,#e3e6ee);font-size:17px;line-height:31px;text-align:center;color:#111">02 - 2026</div>
<div style="position:absolute;left:2071px;top:1664px;width:123px;height:29px;box-sizing:border-box;border:1px solid #3b5a85;background:linear-gradient(#e6e6e6,#c4c4c4);font-weight:bold;font-size:15px;line-height:27px;text-align:center;color:#111">Date</div>
<div style="position:absolute;left:2194px;top:1664px;width:182px;height:29px;box-sizing:border-box;border:1px solid #3b5a85;background:linear-gradient(#f4f5f8,#e3e6ee);font-size:17px;line-height:27px;text-align:center;color:#111">28-Feb-2026</div>

</body></html>
